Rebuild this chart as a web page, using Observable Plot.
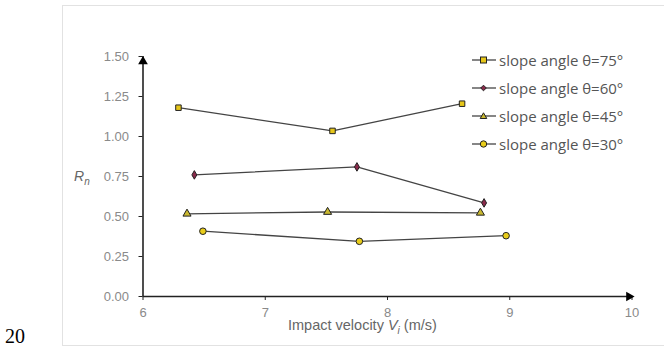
<!DOCTYPE html>
<html><head><meta charset="utf-8">
<script src="https://cdn.jsdelivr.net/npm/d3@7"></script>
<script src="https://cdn.jsdelivr.net/npm/@observablehq/plot@0.6"></script>
<style>
body{margin:0;background:#fff;}
#wrap{position:relative;width:664px;height:350px;overflow:hidden;font-family:"Liberation Sans",Arial,sans-serif;}
#frame{position:absolute;left:62px;top:5px;width:610px;height:341px;border:1px solid #e2e2e2;box-sizing:border-box;}
#num{position:absolute;left:5px;top:325px;font-family:"Liberation Serif","Times New Roman",serif;font-size:20px;color:#000;}
#legend{position:absolute;left:472px;top:46px;font-family:"Open Sans","Noto Sans",sans-serif;font-size:15px;color:#555;}
#legend .it{height:28px;display:flex;align-items:center;}
#legend svg{margin-right:3px;}
#ylab{position:absolute;left:74px;top:168px;font-style:italic;font-size:14px;color:#666;}
#xlab{position:absolute;left:288px;top:317px;font-size:14.5px;color:#666;}
#chart{position:absolute;left:0;top:0;}
</style></head>
<body><div id="wrap"><div id="frame"></div><div id="chart"></div><div id="legend"></div>
<div id="ylab">R<sub style="font-size:10px">n</sub></div>
<div id="xlab">Impact velocity <i>V</i><sub style="font-size:10px"><i>i</i></sub> (m/s)</div>
<div id="num">20</div></div>
<script>
const series = ["slope angle θ=75°","slope angle θ=60°","slope angle θ=45°","slope angle θ=30°"];
const symbols = ["square","diamond","triangle","circle"];
const fills = ["#e6c619","#8a2a4a","#c9b830","#e8cc1a"];
const v75 = [6.29, 7.55, 8.61]; const r75 = [1.18, 1.035, 1.205];
const v60 = [6.42, 7.75, 8.79]; const r60 = [0.76, 0.81, 0.585];
const v45 = [6.36, 7.51, 8.76]; const r45 = [0.517, 0.528, 0.523];
const v30 = [6.49, 7.77, 8.97]; const r30 = [0.408, 0.345, 0.38];
const xTicks = [6,7,8,9,10];
const yTicks = [0,0.25,0.5,0.75,1.0,1.25,1.5];
const xDomain = [6,10], yDomain = [0,1.5];

const vs=[v75,v60,v45,v30], rs=[r75,r60,r45,r30];
const data = [];
series.forEach((s,i)=>vs[i].forEach((v,j)=>data.push({s, i, v, r: rs[i][j]})));

const sizes = {square:3.1, diamond:2.6, triangle:3.0, circle:3.3};
const marks = [
  Plot.ruleX([xDomain[0]],{y1:yDomain[0],y2:yDomain[1],stroke:"#222",strokeWidth:1.6}),
  Plot.ruleY([yDomain[0]],{x1:xDomain[0],x2:xDomain[1],stroke:"#222",strokeWidth:1.6}),
  Plot.dot([{x:xDomain[0],y:yDomain[1]}],{x:"x",y:"y",symbol:"triangle",r:3.6,fill:"#000",dy:5}),
  Plot.dot([{x:xDomain[1],y:yDomain[0]}],{x:"x",y:"y",symbol:"triangle",r:3.6,fill:"#000",rotate:90,dx:-3}),
  Plot.lineY(data,{x:"v",y:"r",z:"s",stroke:"#444",strokeWidth:1.3}),
];
series.forEach((s,i)=>{
  marks.push(Plot.dot(data.filter(d=>d.i===i),{x:"v",y:"r",symbol:()=>symbols[i],r:sizes[symbols[i]],fill:fills[i],stroke:"#222",strokeWidth:1}));
});
const plot = Plot.plot({
  width:664,height:350,marginLeft:142.5,marginRight:32.5,marginTop:56,marginBottom:54,
  style:{background:"transparent",fontFamily:"Liberation Sans, Arial, sans-serif",fontSize:"13px",color:"#8a8a8a"},
  x:{domain:xDomain,ticks:xTicks,tickSize:4,tickPadding:7,label:null,tickFormat:d=>d3.format("d")(d)},
  y:{domain:yDomain,ticks:yTicks,tickSize:4,tickPadding:10,label:null,tickFormat:d3.format(".2f")},
  symbol:{type:"identity"},
  marks
});
plot.querySelectorAll("[aria-label='x-axis tick'], [aria-label='y-axis tick']").forEach(g=>g.setAttribute("stroke","#222"));
document.getElementById("chart").appendChild(plot);

const leg = document.getElementById("legend");
const shapes = {
  square:'<rect x="8.5" y="4" width="6" height="6" />',
  diamond:'<polygon points="11.5,4.2 14.3,7 11.5,9.8 8.7,7" />',
  triangle:'<polygon points="11.5,3.8 14.8,9.5 8.2,9.5" />',
  circle:'<circle cx="11.5" cy="7" r="3.2" />'
};
series.forEach((s,i)=>{
  const d=document.createElement("div");d.className="it";
  d.innerHTML=`<svg width="24" height="14"><line x1="0" y1="7" x2="24" y2="7" stroke="#444" stroke-width="1.3"/><g fill="${fills[i]}" stroke="#222" stroke-width="1">${shapes[symbols[i]]}</g></svg><span>${s}</span>`;
  leg.appendChild(d);
});
</script></body></html>
